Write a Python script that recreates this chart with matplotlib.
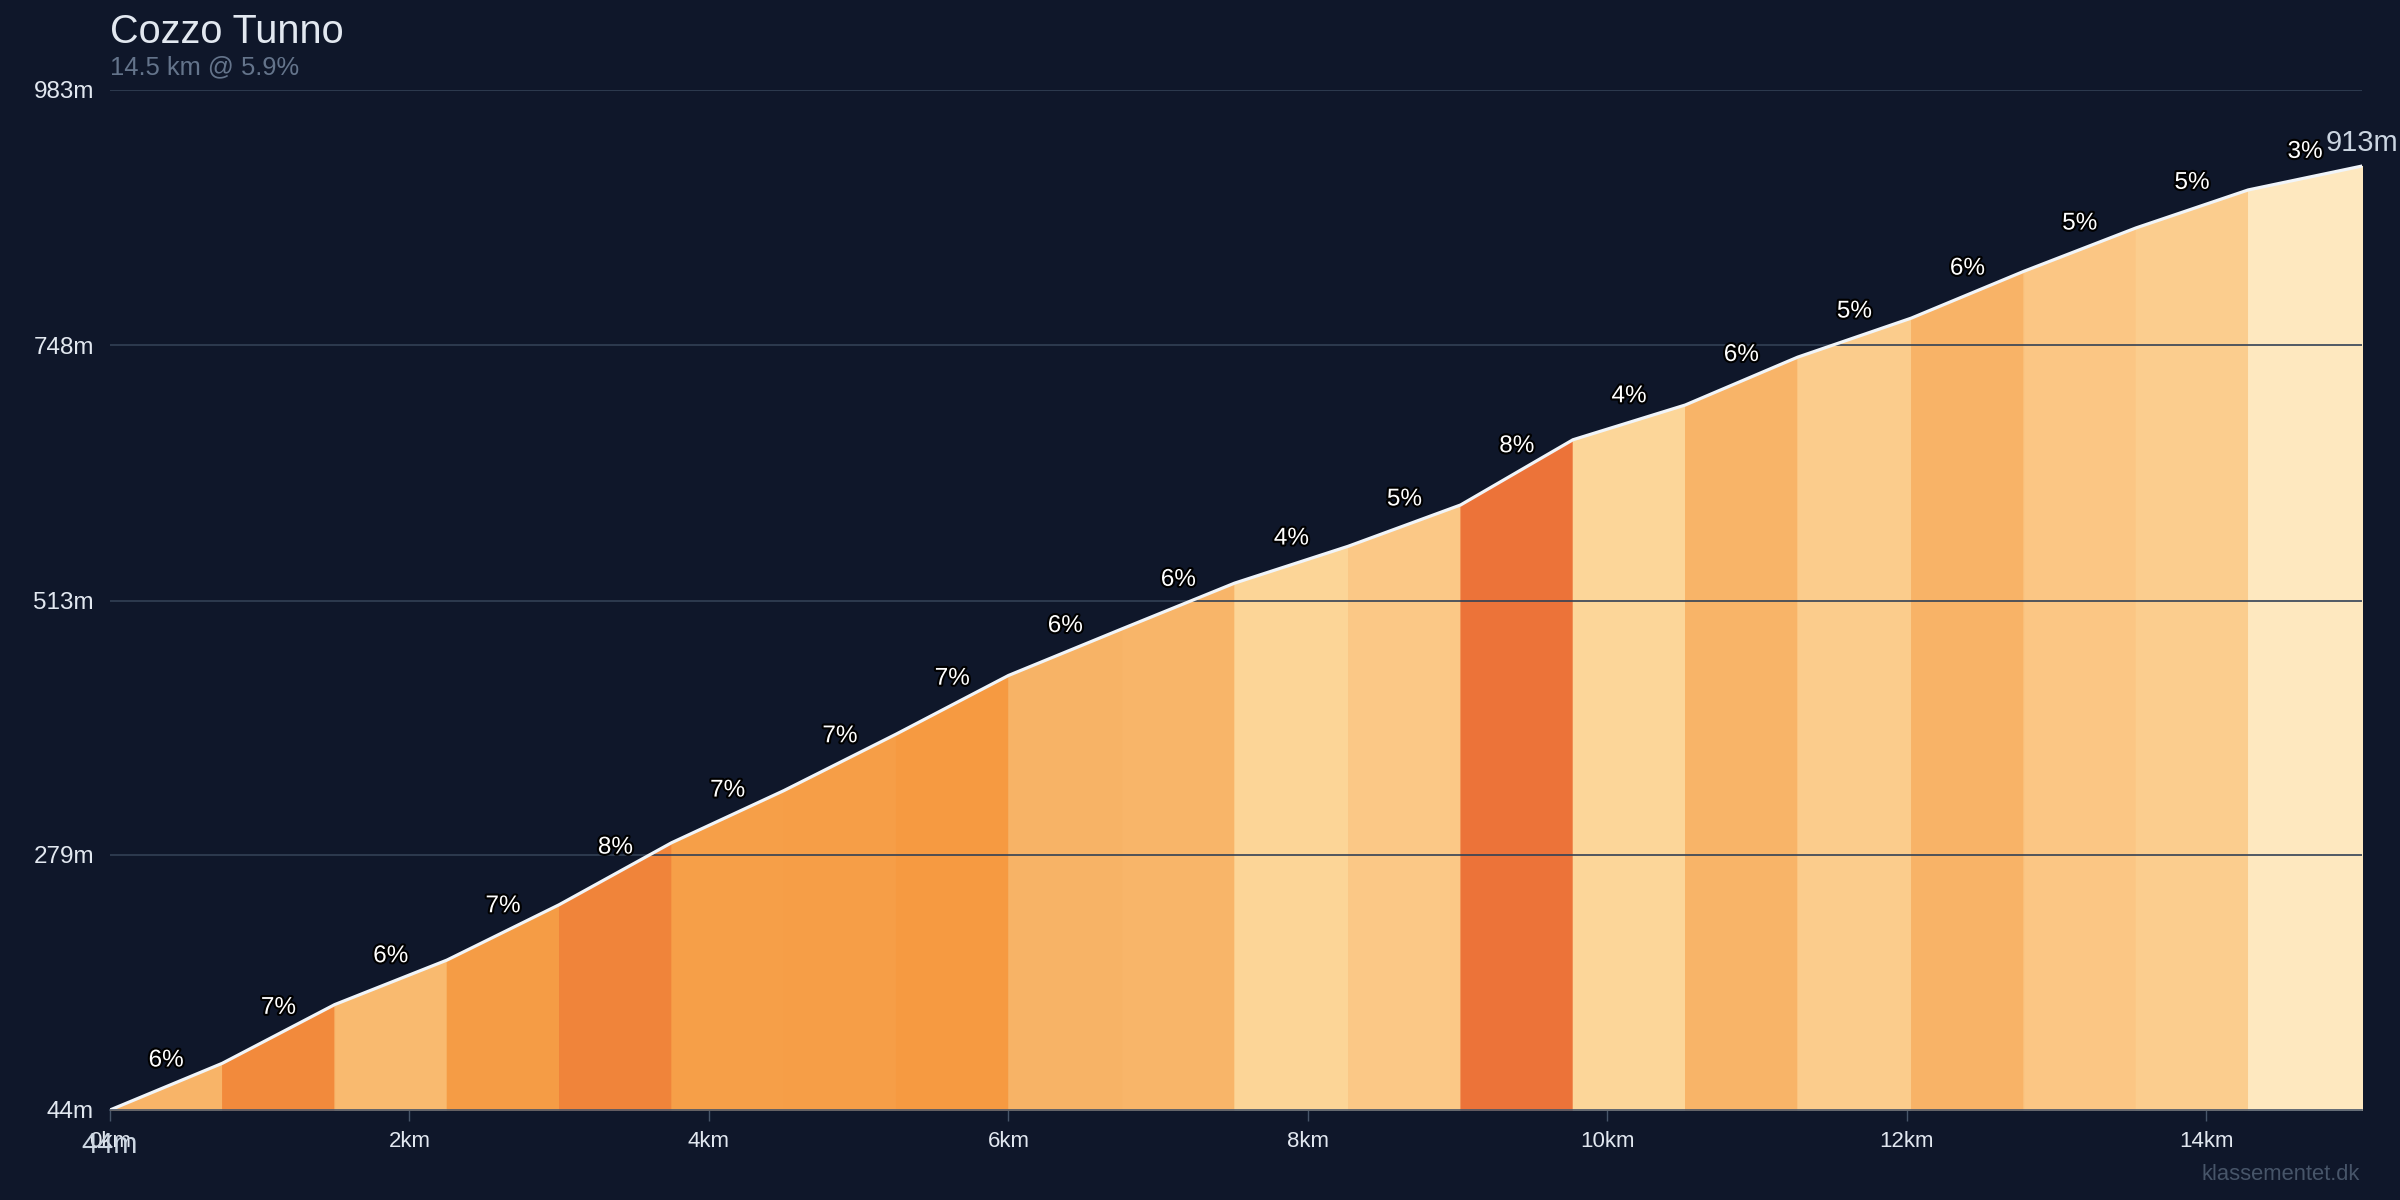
import matplotlib.pyplot as plt
import matplotlib.patheffects as pe

plt.rcParams['font.family'] = ['Liberation Sans', 'DejaVu Sans']

# Dữ liệu: khoảng cách (km) và độ cao (m) tại ranh giới các đoạn
distance_km = [0, 0.75, 1.5, 2.25, 3.0, 3.75, 4.5, 5.25, 6.0, 6.76, 7.51,
               8.27, 9.02, 9.77, 10.52, 11.27, 12.03, 12.78, 13.53, 14.28, 15.04]
elevation_m = [44, 87, 141, 182, 233, 290, 338, 390, 444, 487, 529,
               563, 601, 661, 693, 737, 773, 816, 856, 891, 913]
gradient_labels = ['6%', '7%', '6%', '7%', '8%', '7%', '7%', '7%', '6%', '6%',
                   '4%', '5%', '8%', '4%', '6%', '5%', '6%', '5%', '5%', '3%']
segment_colors = ['#F8B468', '#F28A3C', '#F9BA6F', '#F59C45', '#F0843A',
                  '#F69F48', '#F69E47', '#F69A41', '#F7B366', '#F8B569',
                  '#FCD597', '#FBC886', '#EC7339', '#FCD699', '#F8B468',
                  '#FBCC8C', '#F8B367', '#FBC684', '#FBCD8E', '#FEE8BF']
ytick_values = [44, 279, 513, 748, 983]
xtick_values = [0, 2, 4, 6, 8, 10, 12, 14]

title = 'Cozzo Tunno'
subtitle = '14.5 km @ 5.9%'
watermark = 'klassementet.dk'

BG = '#0F172A'

fig = plt.figure(figsize=(24, 12), dpi=100, facecolor=BG)
ax = fig.add_axes([110 / 2400, 90 / 1200, 2252 / 2400, 1020 / 1200])
ax.set_facecolor(BG)

y_min, y_max = ytick_values[0], ytick_values[-1]

# Các đoạn tô màu theo độ dốc (viền cùng màu để không lộ khe giữa các đoạn)
for i in range(len(distance_km) - 1):
    xs = distance_km[i:i + 2]
    ys = elevation_m[i:i + 2]
    ax.fill_between(xs, ys, y_min, facecolor=segment_colors[i],
                    edgecolor=segment_colors[i], lw=1.0, zorder=2)

# Lưới ngang (vẽ đè lên vùng tô)
for yv in ytick_values[1:]:
    ax.axhline(yv, color='#334155', lw=1.2, zorder=3)

# Đường profile
ax.plot(distance_km, elevation_m, color='#F1F5F9', lw=2.3, zorder=4,
        solid_capstyle='round')

# Nhãn độ dốc
for i, lab in enumerate(gradient_labels):
    xm = (distance_km[i] + distance_km[i + 1]) / 2
    ym = (elevation_m[i] + elevation_m[i + 1]) / 2
    ax.annotate(lab, xy=(xm, ym), xytext=(0, 14.5), textcoords='offset points',
                ha='center', va='baseline', fontsize=17.5, color='white', zorder=6,
                path_effects=[pe.withStroke(linewidth=3, foreground='black')])

# Độ cao đầu / cuối
ax.annotate(f'{elevation_m[-1]}m', xy=(distance_km[-1], elevation_m[-1]),
            xytext=(0, 10.5), textcoords='offset points', ha='center',
            va='baseline', fontsize=21, color='#CBD5E1', zorder=6,
            annotation_clip=False)
ax.annotate(f'{elevation_m[0]}m', xy=(distance_km[0], elevation_m[0]),
            xytext=(0, -31), textcoords='offset points', ha='center',
            va='baseline', fontsize=21, color='#CBD5E1', zorder=6,
            annotation_clip=False)

ax.set_xlim(distance_km[0], distance_km[-1])
ax.set_ylim(y_min, y_max)

ax.set_yticks(ytick_values)
ax.set_yticklabels([f'{v}m' for v in ytick_values])
ax.set_xticks(xtick_values)
ax.set_xticklabels([f'{v}km' for v in xtick_values])
ax.tick_params(axis='y', length=0, pad=11.5, labelsize=17.5, labelcolor='#E2E8F0')
ax.tick_params(axis='x', length=8, width=1, color='#475569', pad=7,
               labelsize=16, labelcolor='#E2E8F0')

for side in ['left', 'right', 'top']:
    ax.spines[side].set_visible(False)
ax.spines['bottom'].set_color('#475569')
ax.spines['bottom'].set_linewidth(1.2)
ax.spines['bottom'].set_zorder(5)

fig.text(110 / 2400, 1 - 43 / 1200, title, fontsize=28.5, color='#E2E8F0',
         ha='left', va='baseline')
fig.text(110 / 2400, 1 - 74 / 1200, subtitle, fontsize=18.4, color='#64748B',
         ha='left', va='baseline')
fig.text(2360 / 2400, 1 - 1180 / 1200, watermark, fontsize=15.8,
         color='#475569', ha='right', va='baseline')

fig.savefig('out.png', dpi=100, facecolor=BG)
